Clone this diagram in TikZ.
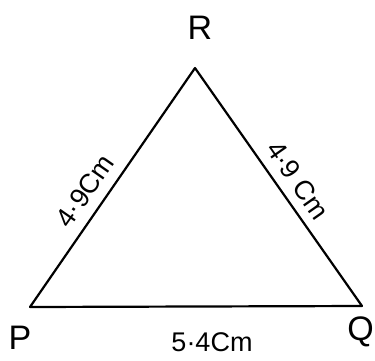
\documentclass[tikz,border=0pt]{standalone}
\usepackage{fontspec}
\setmainfont{Liberation Sans}
\begin{document}
\begin{tikzpicture}[x=1pt,y=-1pt,
  side/.style={line width=2.2pt,line join=round},
  vlabel/.style={font=\fontsize{34}{36}\selectfont},
  slabel/.style={font=\fontsize{27}{29}\selectfont,inner sep=0pt}]
\useasboundingbox[fill=white] (0,0) rectangle (375,360);
\coordinate (P) at (30,307);
\coordinate (Q) at (362,306);
\coordinate (R) at (195,68);
\draw[side] (P) -- (Q) -- (R) -- cycle;
\node[vlabel] (lR) at (200,28) {R};
\node[vlabel] (lP) at (20,338) {P};
\node[vlabel,inner sep=1pt,anchor=east] (lQ) at (375,332) {Q};
\node[slabel] (lPQ) at (212,342) {5·4Cm};
\node[slabel,rotate=55] (lPR) at (85,191) {4·9Cm};
\node[slabel,rotate=-55] (lQR) at (298,180) {4·9 Cm};
\end{tikzpicture}
\end{document}
